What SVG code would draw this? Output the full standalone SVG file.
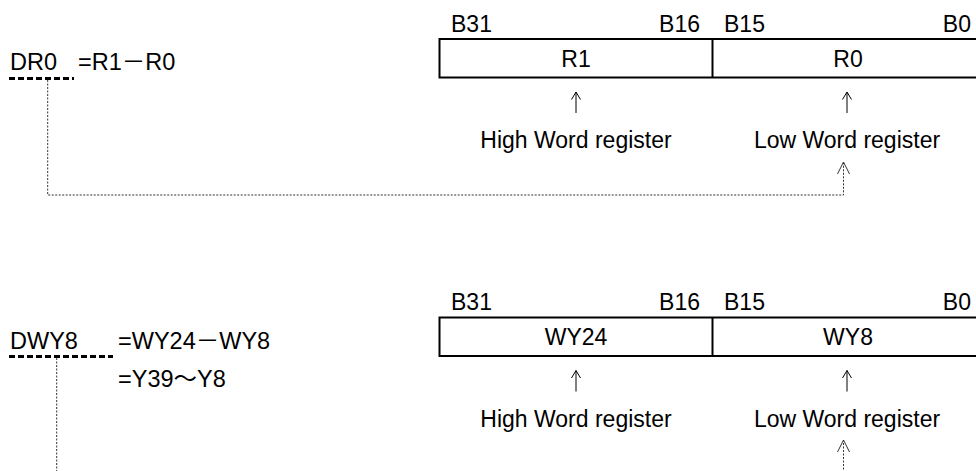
<svg xmlns="http://www.w3.org/2000/svg" width="976" height="471" viewBox="0 0 976 471">
<defs>
<style>
text{font-family:"Liberation Sans","Noto Sans CJK JP",sans-serif;font-size:23px;fill:#000}
.lhs{font-size:23.5px}
.mid{text-anchor:middle}
.end{text-anchor:end}
.box{fill:#fff;stroke:#000;stroke-width:2}
.div{stroke:#000;stroke-width:2}
.ul{stroke:#000;stroke-width:3;stroke-dasharray:6 3;fill:none}
.dot{stroke:#333;stroke-width:1;stroke-dasharray:2 1.5;fill:none}
.up{stroke:#000;stroke-width:1;fill:none}
</style>
<marker id="ah" viewBox="-10 -7 12 14" markerWidth="12" markerHeight="14" refX="0" refY="0" markerUnits="userSpaceOnUse" orient="auto"><path d="M-7.5,-4.5 L0,0 L-7.5,4.5" fill="none" stroke="#000" stroke-width="1"/></marker>
<marker id="ahd" viewBox="-14 -8 16 16" markerWidth="16" markerHeight="16" refX="0" refY="0" markerUnits="userSpaceOnUse" orient="auto"><path d="M-12,-6 L0,0 L-12,6" fill="none" stroke="#333" stroke-width="1"/></marker>
</defs>
<rect width="976" height="471" fill="#fff"/>

<g id="dr0-def">
<text class="lhs" x="10" y="70">DR0</text>
<text class="lhs" x="78" y="70">=R1－R0</text>
<line class="ul" x1="9" y1="78.5" x2="74" y2="78.5"/>
</g>

<g id="dr0-register">
<text x="451" y="31.5">B31</text>
<text class="end" x="700" y="31.5">B16</text>
<text x="724" y="31.5">B15</text>
<text class="end" x="971" y="31.5">B0</text>
<rect class="box" x="439.5" y="39" width="545" height="38.5"/>
<line class="div" x1="712.5" y1="39" x2="712.5" y2="77.5"/>
<text class="mid" x="576" y="66.5">R1</text>
<text class="mid" x="848" y="66.5">R0</text>
</g>

<g id="dr0-high-label">
<line class="up" x1="576" y1="113" x2="576" y2="92" marker-end="url(#ah)"/>
<text class="mid" x="576" y="148">High Word register</text>
</g>
<g id="dr0-low-label">
<line class="up" x1="847" y1="113" x2="847" y2="92" marker-end="url(#ah)"/>
<text class="mid" x="847" y="148">Low Word register</text>
</g>

<g id="dwy8-def">
<text class="lhs" x="10" y="348.5">DWY8</text>
<text class="lhs" x="118" y="348.5">=WY24－WY8</text>
<text class="lhs" x="118" y="387">=Y39～Y8</text>
<line class="ul" x1="9" y1="356.5" x2="113" y2="356.5"/>
</g>

<g id="dwy8-register">
<text x="451" y="309.5">B31</text>
<text class="end" x="700" y="309.5">B16</text>
<text x="724" y="309.5">B15</text>
<text class="end" x="971" y="309.5">B0</text>
<rect class="box" x="439.5" y="317.5" width="545" height="38.5"/>
<line class="div" x1="712.5" y1="317.5" x2="712.5" y2="356"/>
<text class="mid" x="576" y="345">WY24</text>
<text class="mid" x="848" y="345">WY8</text>
</g>

<g id="dwy8-high-label">
<line class="up" x1="576" y1="391.5" x2="576" y2="370.5" marker-end="url(#ah)"/>
<text class="mid" x="576" y="426.5">High Word register</text>
</g>
<g id="dwy8-low-label">
<line class="up" x1="847" y1="391.5" x2="847" y2="370.5" marker-end="url(#ah)"/>
<text class="mid" x="847" y="426.5">Low Word register</text>
</g>

<g id="connectors">
<path class="dot" d="M47.7,80 V195 H843.5 V162" marker-end="url(#ahd)"/>
<path class="dot" d="M56.7,358 V475"/>
<path class="dot" d="M843.5,480 V440" marker-end="url(#ahd)"/>
</g>
</svg>
